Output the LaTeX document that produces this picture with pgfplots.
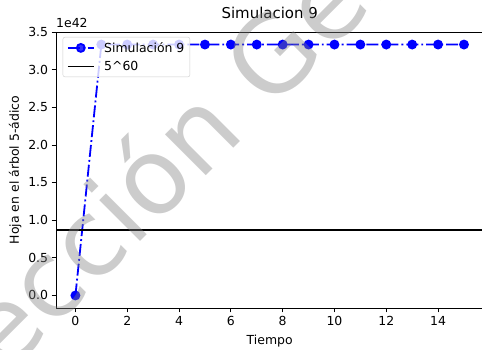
\documentclass[border=0pt]{standalone}
\usepackage{pgfplots}
\pgfplotsset{compat=1.18}
\usepackage{fontspec}
\setmainfont{DejaVu Sans}

% Simulation 9: leaf reached in the 5-adic tree (values in units of 1e42)
\pgfplotstableread{
t   hoja
0   0
1   3.3333
2   3.3333
3   3.3333
4   3.3333
5   3.3333
6   3.3333
7   3.3333
8   3.3333
9   3.3333
10  3.3333
11  3.3333
12  3.3333
13  3.3333
14  3.3333
15  3.3333
}\simnueve

\begin{document}
\begin{tikzpicture}[x=1bp,y=1bp]
\begin{axis}[
  at={(0,0)}, anchor=south west,
  scale only axis, width=427.4bp, height=276bp,
  xmin=-0.75, xmax=15.75,
  ymin=-0.16667, ymax=3.5,
  xtick={0,2,...,14},
  ytick={0,0.5,...,3.5},
  yticklabel style={/pgf/number format/.cd, fixed, fixed zerofill, precision=1},
  /pgf/number format/assume math mode=true,
  tick label style={font=\fontsize{12.5}{15}\selectfont},
  axis x line=box, axis y line=left,
  axis line style={-, line width=0.8bp},
  xtick pos=bottom, ytick pos=left,
  tick align=outside, major tick length=4.4bp,
  tick style={line width=0.8bp, black},
  title={Simulacion 9},
  title style={font=\fontsize{15}{18}\selectfont, at={(axis description cs:0.5,1)}, anchor=base, yshift=8bp},
  xlabel={Tiempo},
  xlabel style={font=\fontsize{12.5}{15}\selectfont, at={(axis description cs:0.5,0)}, anchor=base, yshift=-36bp},
  ylabel={Hoja en el árbol 5-ádico},
  ylabel style={font=\fontsize{12.5}{15}\selectfont, at={(axis description cs:0,0.5)}, anchor=base, rotate=0, yshift=37bp},
  legend style={at={(axis description cs:0.0157,0.982)}, anchor=north west,
    draw=black!20, rounded corners=2bp, fill=white, fill opacity=0.8, text opacity=1,
    font=\fontsize{12.5}{15}\selectfont, inner xsep=4bp, inner ysep=3.5bp, row sep=4.5bp,
    nodes={inner sep=1.5bp}, column sep=8bp},
  legend cell align=left,
  legend image code/.code={\draw[mark repeat=2,mark phase=2,#1] plot coordinates {(0bp,0bp) (13bp,0bp) (26bp,0bp)};},
  clip=false,
]
\addplot[blue, line width=1.8bp, dash pattern=on 12bp off 3bp on 1.9bp off 3bp,
  mark=*, mark size=4bp, mark options={solid, fill=blue}] table[x=t, y=hoja] {\simnueve};
\addlegendentry{Simulación 9}
\addplot[black, line width=1.8bp] coordinates {(-0.75,0.8674) (15.75,0.8674)};
\addlegendentry{5\string^60}
\end{axis}
% exponent of the y axis
\node[anchor=base west, font=\fontsize{12.5}{15}\selectfont, inner sep=0pt] at (0,281) {1e42};
% watermark
\node[rotate=45, text=black!50, opacity=0.4, inner sep=0pt,
  font=\fontsize{106}{106}\selectfont] at (146,187) {Dirección General};
\pgfresetboundingbox
\path[use as bounding box] (-56,-41) rectangle (426,308);
\end{tikzpicture}
\end{document}
